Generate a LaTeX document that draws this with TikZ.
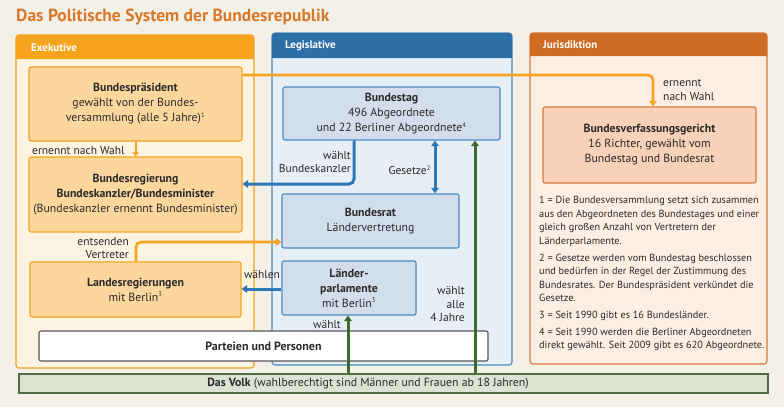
\documentclass[tikz,border=0pt]{standalone}
\usepackage{fontspec}
\setmainfont{PT Sans}
\usetikzlibrary{arrows.meta}
\definecolor{bg}{HTML}{F3F0E7}
\definecolor{titlec}{HTML}{D8782A}
\definecolor{txt}{HTML}{2A2A2A}
\definecolor{exor}{HTML}{F6A31E}
\definecolor{exfill}{HTML}{FDF3E1}
\definecolor{exboxc}{HTML}{FBD79E}
\definecolor{leghead}{HTML}{2D6FA8}
\definecolor{legfill}{HTML}{E8EEF5}
\definecolor{legboxc}{HTML}{D3DEEC}
\definecolor{legline}{HTML}{4B89C3}
\definecolor{jurhead}{HTML}{D06B23}
\definecolor{jurfill}{HTML}{FCEEE3}
\definecolor{jurboxc}{HTML}{F8D2B8}
\definecolor{jurline}{HTML}{D9783C}
\definecolor{barrow}{HTML}{2F78B8}
\definecolor{garrow}{HTML}{3D6B2C}
\definecolor{volkfill}{HTML}{DCE3D2}
\definecolor{volkline}{HTML}{4F6C44}
\definecolor{partline}{HTML}{555555}
\newcommand\fnmark[1]{\textsuperscript{\fontsize{6.5}{6.5}\selectfont #1}}
\tikzset{
  every node/.style={text=txt, font=\fontsize{11.8}{15}\selectfont, inner sep=0pt},
  box/.style={rectangle, rounded corners=2pt, line width=1.1pt, align=center},
  exbox/.style={box, draw=exor, fill=exboxc},
  legbox/.style={box, draw=legline, fill=legboxc},
  jurbox/.style={box, draw=jurline, fill=jurboxc},
  headtxt/.style={anchor=west, text=white, font=\bfseries\fontsize{11}{12}\selectfont},
  lab/.style={font=\fontsize{11.5}{13.5}\selectfont},
  fn/.style={anchor=north west, align=left, font=\fontsize{10.3}{13.5}\selectfont},
  tip/.style={-{Triangle[length=5.5pt,width=7.5pt]}},
  oarr/.style={draw=exor, line width=2.6pt, tip},
  barr/.style={draw=barrow, line width=3pt, tip},
  garr/.style={draw=garrow, line width=3pt, tip},
}
\begin{document}
\begin{tikzpicture}[x=1pt,y=-1pt]
\useasboundingbox (0,0) rectangle (784,407);
\fill[bg] (0,0) rectangle (784,407);

\node[anchor=west, text=titlec, font=\bfseries\fontsize{17.5}{20}\selectfont] (title) at (16,17) {Das Politische System der Bundesrepublik};

% panels
\draw[fill=exfill, draw=exor, line width=1.1pt, rounded corners=3pt] (16,35) rectangle (254,368);
\fill[exor] (16,59) [rounded corners=3pt] -- (16,35) -- (254,35) [sharp corners] -- (254,59) -- cycle;
\node[headtxt] (exh) at (31,47.5) {Exekutive};

\draw[fill=legfill, draw=legline, line width=1.1pt, rounded corners=3pt] (272,33) rectangle (512,365);
\fill[leghead] (272,58) [rounded corners=3pt] -- (272,33) -- (512,33) [sharp corners] -- (512,58) -- cycle;
\node[headtxt] (legh) at (285,45.5) {Legislative};

\draw[fill=jurfill, draw=jurline, line width=1.1pt, rounded corners=3pt] (530,33) rectangle (767,364);
\fill[jurhead] (530,56) [rounded corners=3pt] -- (530,33) -- (767,33) [sharp corners] -- (767,56) -- cycle;
\node[headtxt] (jurh) at (543,44.5) {Jurisdiktion};

% bottom bars
\node[rectangle, draw=volkline, fill=volkfill, line width=1.1pt, minimum width=749pt, minimum height=19pt] (volk) at (393.5,383.5) {};
\node (volkt) at (368,383.5) {\textbf{Das Volk} (wahlberechtigt sind Männer und Frauen ab 18 Jahren)};
\node[rectangle, rounded corners=2pt, draw=partline, fill=white, line width=1.1pt, minimum width=449pt, minimum height=30pt, font=\bfseries\fontsize{12}{15}\selectfont] (part) at (263.5,346) {Parteien und Personen};

% Exekutive boxes
\node[exbox, minimum width=213pt, minimum height=74pt] (bp) at (135.5,104) {\textbf{Bundespräsident}\\gewählt von der Bundes-\\versammlung (alle 5 Jahre)\fnmark{1}};
\node[exbox, minimum width=213pt, minimum height=75pt] (br) at (135.5,194.5) {\textbf{Bundesregierung}\\\textbf{Bundeskanzler/Bundesminister}\\(Bundeskanzler ernennt Bundesminister)};
\node[exbox, minimum width=211pt, minimum height=55pt] (lr) at (135.5,289.5) {\textbf{Landesregierungen}\\mit Berlin\fnmark{3}};

% Legislative boxes
\node[legbox, minimum width=217pt, minimum height=53pt] (bt) at (391.5,113.5) {\textbf{Bundestag}\\496 Abgeordnete\\und 22 Berliner Abgeordnete\fnmark{4}};
\node[legbox, minimum width=177pt, minimum height=54pt] (brat) at (370.5,221) {\textbf{Bundesrat}\\Ländervertretung};
\node[legbox, minimum width=134pt, minimum height=54pt] (lp) at (349,288) {\textbf{Länder-}\\\textbf{parlamente}\\mit Berlin\fnmark{3}};

% Jurisdiktion box
\node[jurbox, minimum width=213pt, minimum height=76pt] (bv) at (649.5,145) {\textbf{Bundesverfassungsgericht}\\16 Richter, gewählt vom\\Bundestag und Bundesrat};

% footnotes
\node[fn] (fn1) at (539,196) {1 = Die Bundesversammlung setzt sich zusammen\\aus den Abgeordneten des Bundestages und einer\\gleich großen Anzahl von Vertretern der\\Länderparlamente.};
\node[fn] (fn2) at (539,253.5) {2 = Gesetze werden vom Bundestag beschlossen\\und bedürfen in der Regel der Zustimmung des\\Bundesrates. Der Bundespräsident verkündet die\\Gesetze.};
\node[fn] (fn3) at (539,310.5) {3 = Seit 1990 gibt es 16 Bundesländer.};
\node[fn] (fn4) at (539,327.5) {4 = Seit 1990 werden die Berliner Abgeordneten\\direkt gewählt. Seit 2009 gibt es 620 Abgeordnete.};

% connectors
\coordinate (k1) at (653,75);
\draw[oarr, rounded corners=5pt] (bp.east |- k1) -| (bv.north -| k1);
\node[lab, align=left, anchor=west] (l_ern) at (663,90) {ernennt\\nach Wahl};

\draw[draw=exor, line width=2pt, -{Triangle[length=4pt,width=6pt]}] (bp.south) -- (br.north);
\node[lab, anchor=west] (l_ern2) at (32,151) {ernennt nach Wahl};

\coordinate (k2) at (136,242);
\draw[oarr, rounded corners=5pt] (lr.north -| k2) |- (brat.west |- k2);
\node[lab, align=right, anchor=east] (l_ent) at (129,248) {entsenden\\Vertreter};

\coordinate (k3) at (354,184);
\draw[barr, rounded corners=5pt] (bt.south -| k3) |- (br.east |- k3);
\node[lab, align=right, anchor=east] (l_wk) at (351,162) {wählt\\Bundeskanzler};

\coordinate (k4) at (435,170);
\draw[draw=barrow, line width=3pt, {Triangle[length=5.5pt,width=7.5pt]}-{Triangle[length=5.5pt,width=7.5pt]}] (bt.south -| k4) -- (brat.north -| k4);
\node[lab, anchor=east] (l_ges) at (431,170) {Gesetze\fnmark{2}};

\coordinate (k5) at (262,289);
\draw[barr] (lp.west |- k5) -- (lr.east |- k5);
\node[lab] (l_wae) at (262,275) {wählen};

\coordinate (k6) at (348,330);
\draw[garr] (volk.north -| k6) -- (lp.south -| k6);
\node[lab, anchor=east] (l_w2) at (341,325) {wählt};

\coordinate (k7) at (475,300);
\draw[garr] (volk.north -| k7) -- (bt.south -| k7);
\node[lab, align=right, anchor=east] (l_w4) at (465,304.5) {wählt\\alle\\4 Jahre};
\end{tikzpicture}
\end{document}
